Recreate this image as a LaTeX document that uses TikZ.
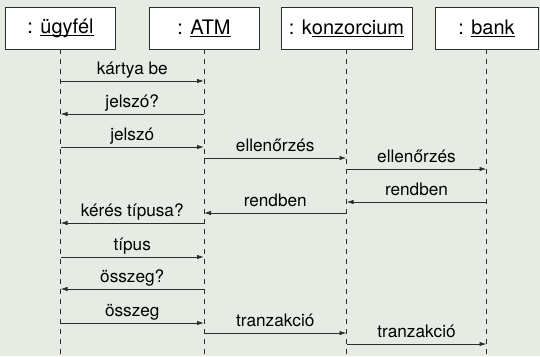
\documentclass[tikz,border=0pt]{standalone}
\usepackage{fontspec}
\setmainfont{TeX Gyre Heros}
\usepackage{tikz}
\usetikzlibrary{positioning,arrows.meta}
\definecolor{bgcol}{RGB}{230,235,228}
\definecolor{linecol}{RGB}{45,45,45}
\newcommand\uword[1]{\setbox0\hbox{#1}\rlap{\copy0}\rule[-2.4pt]{\wd0}{0.9pt}}

\begin{document}
\begin{tikzpicture}[x=1pt,y=-1pt,
    obj/.style={draw=linecol,fill=white,line width=0.9pt,minimum height=42pt,inner sep=0pt,font=\fontsize{20}{24}\selectfont},
    life/.style={draw=linecol,line width=0.9pt,dash pattern=on 5pt off 5pt},
    msg/.style={draw=linecol,line width=0.9pt,-{Latex[length=7pt,width=4.5pt]}},
    lbl/.style={above,inner sep=0pt,yshift=6pt,text depth=0pt,font=\fontsize{17.2}{20}\selectfont}]
      \fill[bgcol] (0,0) rectangle (540,356);
      \useasboundingbox (0,0) rectangle (540,356);
      % objects
      \node[obj,minimum width=110pt](ugyfel) at (60.5,28){: \uword{ügyfél}};
      \node[obj,minimum width=110pt](atm) at (204,28){: \uword{ATM}};
      \node[obj,minimum width=131pt](konz) at (346.5,28){: k\uword{onzorcium}};
      \node[obj,minimum width=103pt](bank) at (486.5,28){: \uword{bank}};
      % lifelines
      \coordinate (ugyfelEnd) at (ugyfel |- 0,356);
      \coordinate (atmEnd) at (atm |- 0,356);
      \coordinate (konzEnd) at (konz |- 0,356);
      \coordinate (bankEnd) at (bank |- 0,356);
      \draw[life] (ugyfel.south) -- (ugyfelEnd);
      \draw[life] (atm.south) -- (atmEnd);
      \draw[life] (konz.south) -- (konzEnd);
      \draw[life] (bank.south) -- (bankEnd);
      % messages
      \draw[msg] (ugyfel |- 0,81) -- node[lbl]{kártya be} (atm |- 0,81);
      \draw[msg] (atm |- 0,114) -- node[lbl]{jelszó?} (ugyfel |- 0,114);
      \draw[msg] (ugyfel |- 0,147) -- node[lbl]{jelszó} (atm |- 0,147);
      \draw[msg] (atm |- 0,158) -- node[lbl]{ellenőrzés} (konz |- 0,158);
      \draw[msg] (konz |- 0,169) -- node[lbl]{ellenőrzés} (bank |- 0,169);
      \draw[msg] (bank |- 0,202) -- node[lbl]{rendben} (konz |- 0,202);
      \draw[msg] (konz |- 0,213) -- node[lbl]{rendben} (atm |- 0,213);
      \draw[msg] (atm |- 0,223) -- node[lbl]{kérés típusa?} (ugyfel |- 0,223);
      \draw[msg] (ugyfel |- 0,257) -- node[lbl]{típus} (atm |- 0,257);
      \draw[msg] (atm |- 0,289) -- node[lbl]{összeg?} (ugyfel |- 0,289);
      \draw[msg] (ugyfel |- 0,323) -- node[lbl]{összeg} (atm |- 0,323);
      \draw[msg] (atm |- 0,333) -- node[lbl]{tranzakció} (konz |- 0,333);
      \draw[msg] (konz |- 0,344) -- node[lbl]{tranzakció} (bank |- 0,344);
    \end{tikzpicture}
\end{document}
